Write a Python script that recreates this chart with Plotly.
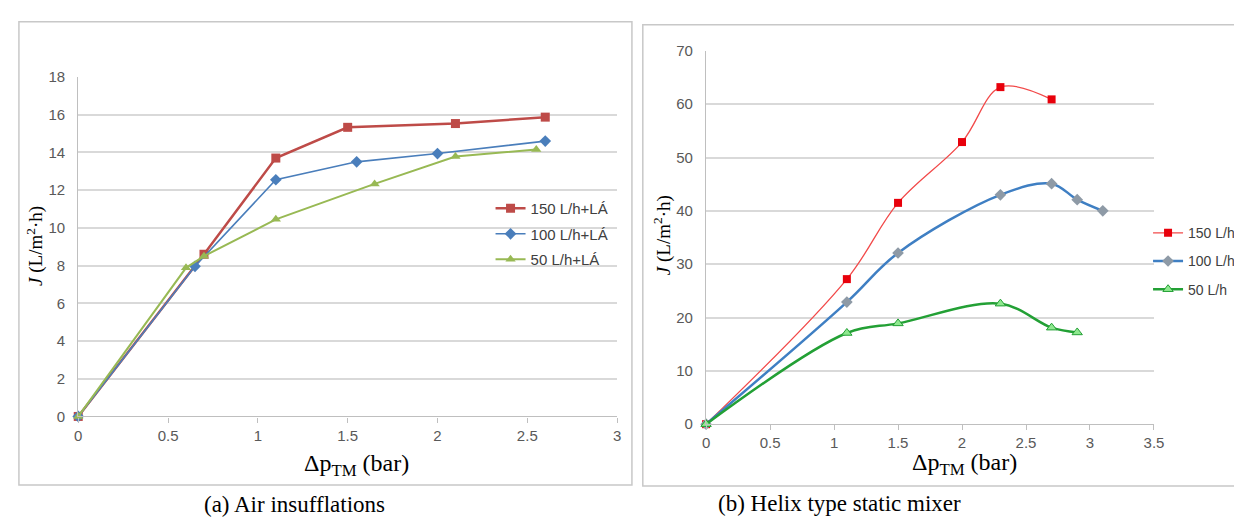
import plotly.graph_objects as go

# ---------- data: (a) Air insufflations ----------
a_x_150 = [0, 0.7, 1.1, 1.5, 2.1, 2.6]
a_y_150 = [0, 8.6, 13.7, 15.33, 15.53, 15.87]
a_x_100 = [0, 0.65, 1.1, 1.55, 2.0, 2.6]
a_y_100 = [0, 7.96, 12.55, 13.5, 13.94, 14.6]
a_x_50 = [0, 0.6, 0.7, 1.1, 1.65, 2.1, 2.55]
a_y_50 = [0, 7.88, 8.5, 10.45, 12.33, 13.78, 14.16]
a_names = ["150 L/h+LÁ", "100 L/h+LÁ", "50 L/h+LÁ"]

# ---------- data: (b) Helix type static mixer ----------
b_x_150 = [0, 1.1, 1.5, 2.0, 2.3, 2.7]
b_y_150 = [0, 27.2, 41.5, 52.9, 63.2, 60.9]
b_x_100 = [0, 1.1, 1.5, 2.3, 2.7, 2.9, 3.1]
b_y_100 = [0, 22.9, 32.1, 43.0, 45.1, 42.1, 40.0]
b_x_50 = [0, 1.1, 1.5, 2.3, 2.7, 2.9]
b_y_50 = [0, 17.1, 18.9, 22.6, 18.1, 17.2]
b_names = ["150 L/h", "100 L/h", "50 L/h"]

a_xticks = [0, 0.5, 1, 1.5, 2, 2.5, 3]
a_yticks = [0, 2, 4, 6, 8, 10, 12, 14, 16, 18]
b_xticks = [0, 0.5, 1, 1.5, 2, 2.5, 3, 3.5]
b_yticks = [0, 10, 20, 30, 40, 50, 60, 70]

W, H = 1242, 518
def px(x): return x / W
def py(y): return (H - y) / H

SANS = "Liberation Sans Narrow, Arial Narrow, Liberation Sans, Arial"
TICKFONT = dict(family=SANS, size=15, color="#595959")
SERIF = "Liberation Serif, Times New Roman, serif"

fig = go.Figure()

# panel (a)
fig.add_trace(go.Scatter(x=a_x_150, y=a_y_150, name=a_names[0], mode="lines+markers",
                         line=dict(color="#BE4B48", width=2.5),
                         marker=dict(symbol="square", size=9, color="#BE4B48"),
                         xaxis="x", yaxis="y", legend="legend", legendgroup="a1", cliponaxis=False))
fig.add_trace(go.Scatter(x=a_x_100, y=a_y_100, name=a_names[1], mode="lines+markers",
                         line=dict(color="#4A7EBB", width=1.6),
                         marker=dict(symbol="diamond", size=9, color="#4A7EBB"),
                         xaxis="x", yaxis="y", legend="legend", legendgroup="a2", cliponaxis=False))
fig.add_trace(go.Scatter(x=a_x_50, y=a_y_50, name=a_names[2], mode="lines+markers",
                         line=dict(color="#98B954", width=2),
                         marker=dict(symbol="triangle-up", size=9, color="#98B954"),
                         xaxis="x", yaxis="y", legend="legend", legendgroup="a3", cliponaxis=False))

# panel (b)
fig.add_trace(go.Scatter(x=b_x_150, y=b_y_150, name=b_names[0], mode="lines+markers",
                         line=dict(color="#F24A4A", width=1.3, shape="spline"),
                         marker=dict(symbol="square", size=8, color="#E8000B"),
                         xaxis="x2", yaxis="y2", legend="legend2", legendgroup="b1", cliponaxis=False))
fig.add_trace(go.Scatter(x=b_x_100, y=b_y_100, name=b_names[1], mode="lines+markers",
                         line=dict(color="#3F7FC3", width=2.5, shape="spline"),
                         marker=dict(symbol="diamond", size=9, color="#8E9AA6"),
                         xaxis="x2", yaxis="y2", legend="legend2", legendgroup="b2", cliponaxis=False))
fig.add_trace(go.Scatter(x=b_x_50, y=b_y_50, name=b_names[2], mode="lines+markers",
                         line=dict(color="#23A035", width=2.5, shape="spline"),
                         marker=dict(symbol="triangle-up", size=9, color="#8FE88F",
                                     line=dict(color="#23A035", width=1)),
                         xaxis="x2", yaxis="y2", legend="legend2", legendgroup="b3", cliponaxis=False))

xaxis_common = dict(showgrid=False, zeroline=False,
                    showline=True, linecolor="#BFBFBF", linewidth=1.3,
                    tickfont=TICKFONT, ticks="outside", ticklen=5, tickcolor="#BFBFBF")
yaxis_common = dict(showgrid=True, gridcolor="#D9D9D9", gridwidth=1.5, zeroline=False,
                    showline=True, linecolor="#BFBFBF", linewidth=1.3,
                    tickfont=TICKFONT, ticks="outside", ticklen=9, tickcolor="rgba(0,0,0,0)")

fig.update_layout(
    width=W, height=H, margin=dict(l=0, r=0, t=0, b=0),
    paper_bgcolor="white", plot_bgcolor="white",
    xaxis=dict(domain=[px(67), px(612)], range=[0, 3], tickvals=a_xticks, anchor="y", **xaxis_common),
    yaxis=dict(domain=[py(413), py(62)], range=[0, 18], tickvals=a_yticks, anchor="x", **yaxis_common),
    xaxis2=dict(domain=[px(702), px(1155)], range=[0, 3.5], tickvals=b_xticks, anchor="y2", **xaxis_common),
    yaxis2=dict(domain=[py(421), py(35)], range=[0, 70], tickvals=b_yticks, anchor="x2", **yaxis_common),
    legend=dict(x=px(484), y=py(181), xanchor="left", yanchor="top",
                font=dict(family=SANS, size=15, color="#404040"),
                bgcolor="rgba(0,0,0,0)", itemwidth=30, tracegroupgap=3),
    legend2=dict(x=px(1149), y=py(207), xanchor="left", yanchor="top",
                 font=dict(family=SANS, size=14, color="#404040"),
                 bgcolor="rgba(0,0,0,0)", itemwidth=30, tracegroupgap=7),
    showlegend=True,
)

# panel frames
fig.add_shape(type="rect", xref="paper", yref="paper", x0=px(7), x1=px(627), y0=py(484), y1=py(5),
              line=dict(color="#C8C8C8", width=1.5), fillcolor="rgba(0,0,0,0)", layer="below")
fig.add_shape(type="rect", xref="paper", yref="paper", x0=px(638), x1=px(1241), y0=py(485), y1=py(8),
              line=dict(color="#C8C8C8", width=1.5), fillcolor="rgba(0,0,0,0)", layer="below")

ytitle = "<i>J</i> (L/m<sup>2</sup>·h)"
xtitle = "Δp<sub>TM</sub> (bar)"
ann = [
    dict(text=ytitle, x=px(23), y=py(237), textangle=-90, font=dict(family=SERIF, size=19, color="black")),
    dict(text=ytitle, x=px(658), y=py(226), textangle=-90, font=dict(family=SERIF, size=19, color="black")),
    dict(text=xtitle, x=px(348), y=py(463), font=dict(family=SERIF, size=24, color="black")),
    dict(text=xtitle, x=px(963), y=py(462), font=dict(family=SERIF, size=24, color="black")),
    dict(text="(a) Air insufflations", x=px(286), y=py(504), font=dict(family=SERIF, size=23, color="black")),
    dict(text="(b) Helix type static mixer", x=px(837), y=py(503), font=dict(family=SERIF, size=23, color="black")),
]
for a in ann:
    fig.add_annotation(xref="paper", yref="paper", showarrow=False, xanchor="center", yanchor="middle", **a)

fig.write_html("out.html")
